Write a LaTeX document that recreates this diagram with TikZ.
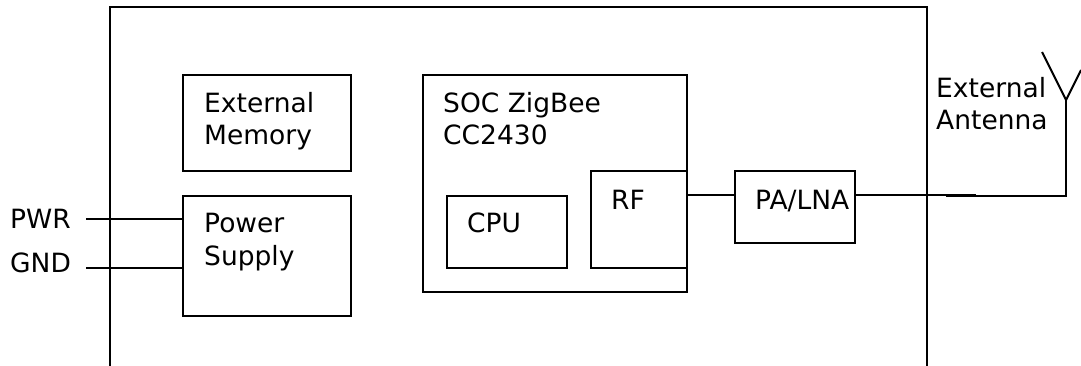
\documentclass[tikz,border=0pt]{standalone}
\usepackage{fontspec}
\setmainfont{DejaVu Sans}
\begin{document}
\begin{tikzpicture}[x=1pt,y=-1pt,
  blk/.style={draw=black,line width=2pt,fill=white,anchor=north west,inner sep=0pt,outer sep=0pt},
  wire/.style={draw=black,line width=2pt},
  lbl/.style={font=\fontsize{26.5}{30}\selectfont,anchor=base west,inner sep=0pt,align=left,text=black}]
\useasboundingbox (0,0) rectangle (1081,366);
\path[fill=white] (0,0) rectangle (1081,366);
\coordinate (ol) at (110,366); \coordinate (otl) at (110,7); \coordinate (otr) at (927,7); \coordinate (or) at (927,366);
\draw[wire] (ol) -- (otl) -- (otr) -- (or);
\node[blk,minimum width=168pt,minimum height=96pt] (mem) at (183,75.5) {};
\node[blk,minimum width=168pt,minimum height=119.5pt] (pwr) at (183,196) {};
\node[blk,minimum width=264pt,minimum height=216pt] (soc) at (423,75.5) {};
\node[blk,minimum width=120pt,minimum height=71.5pt] (cpu) at (447,196) {};
\node[blk,minimum width=96pt,minimum height=96pt] (rf) at (591,171.5) {};
\node[blk,minimum width=120.5pt,minimum height=71.5pt] (pa) at (734.5,171.5) {};
\node[lbl] (t1) at (204,113) {External};
\node[lbl] (t1b) at (204,144.5) {Memory};
\node[lbl] (t2) at (204,233) {Power};
\node[lbl] (t2b) at (204,265) {Supply};
\node[lbl] (t3) at (443,113) {SOC ZigBee};
\node[lbl] (t3b) at (443,145) {CC2430};
\node[lbl] (t4) at (467,233) {CPU};
\node[lbl] (t5) at (611,209) {RF};
\node[lbl] (t6) at (755,209) {PA/LNA};
\node[lbl] (t7) at (936,98) {External};
\node[lbl] (t7b) at (936,129.5) {Antenna};
\node[lbl] (pl) at (10,228) {PWR};
\node[lbl] (gl) at (10,272) {GND};
\coordinate (p0) at (86,219); \coordinate (p1) at (183,219);
\coordinate (g0) at (86,268); \coordinate (g1) at (183,268);
\draw[wire] (p0) -- (p1); \draw[wire] (g0) -- (g1);
\coordinate (rfr) at (687,195); \coordinate (par) at (735,195);
\draw[wire] (rfr) -- (par);
\coordinate (a0) at (855,195); \coordinate (a0e) at (976,195);
\coordinate (a5) at (946,196); \coordinate (a1) at (1066,196); \coordinate (a2) at (1066,100);
\coordinate (a3) at (1042,52); \coordinate (a4) at (1081,70);
\draw[wire] (a0) -- (a0e);
\draw[wire] (a5) -- (a1) -- (a2);
\draw[wire] (a3) -- (a2) -- (a4);
\end{tikzpicture}
\end{document}
